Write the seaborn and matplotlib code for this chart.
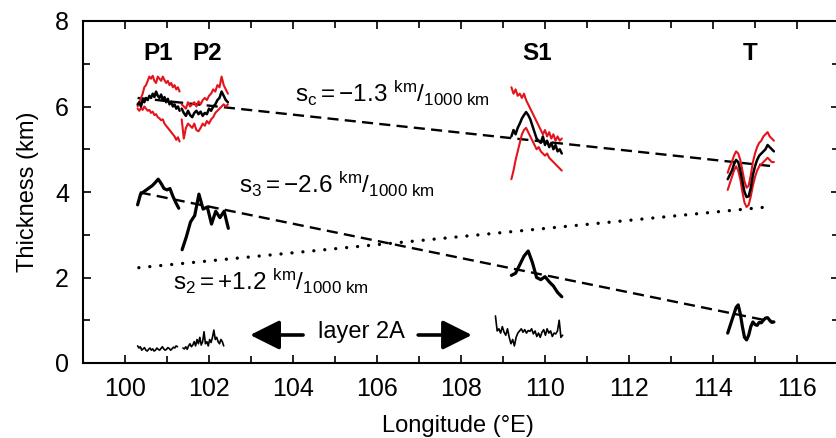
import numpy as np
import pandas as pd
import matplotlib
matplotlib.use("Agg")
import matplotlib.pyplot as plt
import seaborn as sns

# ---------------------------------------------------------------------------
# Profile data: thickness (km) sampled evenly along each segment (°E span)
# ---------------------------------------------------------------------------
# Total crust: mean (black) with upper / lower bounds (red)
crust_p1_span = (100.30, 101.30)
crust_p1_mid = [6.05, 6.10, 6.00, 6.15, 6.10, 6.20, 6.15, 6.25, 6.20, 6.30, 6.22, 6.35, 6.25,
                6.20, 6.28, 6.15, 6.22, 6.10, 6.18, 6.05, 6.12, 6.00, 6.05, 5.95, 6.00, 5.90]
crust_p1_hi = [6.00, 6.10, 6.20, 6.30, 6.45, 6.50, 6.60, 6.70, 6.65, 6.72, 6.60, 6.55, 6.70,
               6.65, 6.60, 6.70, 6.62, 6.55, 6.60, 6.50, 6.55, 6.45, 6.50, 6.40, 6.45, 6.35]
crust_p1_lo = [5.95, 5.90, 5.97, 5.92, 6.00, 5.95, 5.90, 5.92, 5.85, 5.88, 5.80, 5.82, 5.75,
               5.72, 5.68, 5.70, 5.60, 5.55, 5.50, 5.45, 5.40, 5.35, 5.30, 5.22, 5.28, 5.18]

crust_p2_span = (101.35, 102.45)
crust_p2_mid = [5.95, 5.85, 5.78, 5.90, 5.80, 5.75, 5.85, 5.90, 5.82, 5.88, 5.78, 5.85,
                5.82, 5.95, 5.90, 6.00, 6.05, 6.15, 6.20, 6.35, 6.25, 6.15, 6.10]
crust_p2_hi = [6.05, 6.00, 5.95, 6.10, 6.00, 6.05, 6.10, 6.00, 6.12, 6.05, 6.15, 6.20,
               6.15, 6.25, 6.30, 6.40, 6.35, 6.50, 6.45, 6.70, 6.50, 6.40, 6.30]
crust_p2_lo = [5.70, 5.25, 5.50, 5.60, 5.55, 5.50, 5.60, 5.45, 5.42, 5.50, 5.60, 5.55,
               5.66, 5.60, 5.70, 5.75, 5.85, 5.90, 5.95, 6.00, 6.05, 6.00, 6.05]

crust_s1_span = (109.20, 110.40)
crust_s1_mid = [5.30, 5.45, 5.35, 5.50, 5.60, 5.72, 5.80, 5.87, 5.80, 5.70, 5.55, 5.40, 5.25,
                5.20, 5.15, 5.30, 5.10, 5.20, 5.05, 5.15, 5.00, 5.10, 4.95, 5.00, 4.90]
crust_s1_hi = [6.45, 6.30, 6.40, 6.25, 6.30, 6.20, 6.30, 6.15, 6.05, 5.95, 5.85, 5.75, 5.65,
               5.55, 5.45, 5.35, 5.45, 5.30, 5.40, 5.25, 5.35, 5.20, 5.30, 5.20, 5.25]
crust_s1_lo = [4.30, 4.50, 4.75, 4.95, 5.15, 5.35, 5.45, 5.50, 5.40, 5.30, 5.20, 5.10, 5.00,
               5.05, 4.95, 4.90, 4.85, 4.90, 4.80, 4.75, 4.70, 4.65, 4.60, 4.55, 4.50]

crust_t_span = (114.35, 115.45)
crust_t_mid = [4.30, 4.40, 4.50, 4.65, 4.75, 4.70, 4.50, 4.25, 4.00, 3.88, 3.90, 4.10,
               4.40, 4.60, 4.75, 4.85, 4.90, 4.95, 5.00, 5.10, 5.05, 5.00, 4.95]
crust_t_hi = [4.45, 4.60, 4.70, 4.85, 4.95, 4.90, 4.75, 4.50, 4.25, 4.10, 4.15, 4.40,
              4.70, 4.90, 5.05, 5.15, 5.20, 5.30, 5.35, 5.40, 5.30, 5.25, 5.20]
crust_t_lo = [4.05, 4.20, 4.35, 4.50, 4.60, 4.50, 4.30, 4.00, 3.75, 3.65, 3.70, 3.90,
              4.15, 4.35, 4.50, 4.60, 4.65, 4.70, 4.75, 4.80, 4.75, 4.70, 4.70]

# Layer 3
layer3_p1_span = (100.30, 101.28)
layer3_p1 = [3.70, 3.95, 4.00, 4.05, 4.10, 4.15, 4.22, 4.30, 4.20, 4.08, 4.05, 4.08, 3.90, 3.75, 3.62]
layer3_p2_span = (101.36, 102.46)
layer3_p2 = [2.65, 2.95, 3.30, 3.45, 3.95, 3.60, 3.65, 3.25, 3.55, 3.40, 3.55, 3.15]
layer3_s1_span = (109.20, 110.40)
layer3_s1 = [2.05, 2.10, 2.30, 2.50, 2.62, 2.35, 2.00, 1.95, 2.02, 1.90, 1.80, 1.65, 1.55]
layer3_t_span = (114.35, 115.45)
layer3_t = [0.70, 0.85, 1.00, 1.15, 1.30, 1.36, 1.15, 0.85, 0.60, 0.54, 0.65, 0.85,
            0.96, 0.90, 0.88, 0.95, 0.94, 1.00, 1.05, 1.06, 1.00, 0.95, 0.96]

# Layer 2A
layer2a_p1_span = (100.30, 101.25)
layer2a_p1 = [0.40, 0.35, 0.38, 0.30, 0.33, 0.36, 0.30, 0.28, 0.32, 0.35, 0.30, 0.33, 0.28, 0.30, 0.35,
              0.32, 0.30, 0.34, 0.38, 0.33, 0.30, 0.32, 0.36, 0.34, 0.30, 0.33, 0.37, 0.35, 0.40, 0.38]
layer2a_p2_span = (101.38, 102.35)
layer2a_p2 = [0.35, 0.33, 0.38, 0.32, 0.40, 0.45, 0.38, 0.42, 0.50, 0.40, 0.55, 0.45, 0.60, 0.42, 0.50,
              0.73, 0.45, 0.50, 0.40, 0.55, 0.48, 0.60, 0.77, 0.55, 0.60, 0.50, 0.45, 0.55, 0.50, 0.40]
layer2a_s1_span = (108.82, 110.42)
layer2a_s1 = [1.10, 0.75, 0.80, 0.70, 0.85, 0.72, 0.65, 0.80, 0.60, 0.45, 0.55, 0.40, 0.60, 0.70,
              0.75, 0.80, 0.72, 0.78, 0.70, 0.76, 0.74, 0.80, 0.68, 0.75, 0.62, 0.70, 0.60, 0.72,
              0.78, 0.65, 0.80, 0.70, 0.75, 0.62, 0.70, 0.68, 0.75, 1.00, 0.60, 0.65]

# Regional trend lines (end points)
trend_sc_lon, trend_sc_thk = [100.30, 115.45], [6.20, 4.60]
trend_s3_lon, trend_s3_thk = [100.35, 115.45], [3.99, 0.96]
trend_s2_lon, trend_s2_thk = [100.33, 115.40], [2.23, 3.66]

segment_names = ["P1", "P2", "S1", "T"]
segment_label_lon = [100.80, 101.95, 109.80, 114.88]

x_ticks = [100, 102, 104, 106, 108, 110, 112, 114, 116]
y_ticks = [0, 2, 4, 6, 8]


def profile(span, values, name):
    lon = np.linspace(span[0], span[1], len(values))
    return pd.DataFrame({"lon": lon, "thk": values, "seg": name})


crust_mid = pd.concat([profile(crust_p1_span, crust_p1_mid, "P1"),
                       profile(crust_p2_span, crust_p2_mid, "P2"),
                       profile(crust_s1_span, crust_s1_mid, "S1"),
                       profile(crust_t_span, crust_t_mid, "T")], ignore_index=True)
crust_bounds = pd.concat([profile(crust_p1_span, crust_p1_hi, "P1hi"),
                          profile(crust_p1_span, crust_p1_lo, "P1lo"),
                          profile(crust_p2_span, crust_p2_hi, "P2hi"),
                          profile(crust_p2_span, crust_p2_lo, "P2lo"),
                          profile(crust_s1_span, crust_s1_hi, "S1hi"),
                          profile(crust_s1_span, crust_s1_lo, "S1lo"),
                          profile(crust_t_span, crust_t_hi, "Thi"),
                          profile(crust_t_span, crust_t_lo, "Tlo")], ignore_index=True)
layer3 = pd.concat([profile(layer3_p1_span, layer3_p1, "P1"),
                    profile(layer3_p2_span, layer3_p2, "P2"),
                    profile(layer3_s1_span, layer3_s1, "S1"),
                    profile(layer3_t_span, layer3_t, "T")], ignore_index=True)
layer2a = pd.concat([profile(layer2a_p1_span, layer2a_p1, "P1"),
                     profile(layer2a_p2_span, layer2a_p2, "P2"),
                     profile(layer2a_s1_span, layer2a_s1, "S1")], ignore_index=True)

sns.set_theme(style="ticks")
plt.rcParams.update({
    "font.family": ["Liberation Sans", "DejaVu Sans"],
    "mathtext.fontset": "custom",
    "mathtext.rm": "Liberation Sans",
    "mathtext.it": "Liberation Sans",
    "lines.scale_dashes": False,
    "axes.edgecolor": "black",
    "axes.linewidth": 1.5,
    "xtick.color": "black",
    "ytick.color": "black",
    "text.color": "black",
    "axes.labelcolor": "black",
})

fig = plt.figure(figsize=(8.36, 4.38), dpi=100)
ax = fig.add_axes([83 / 836, 1 - 363 / 438, (839 - 83) / 836, (363 - 21) / 438])

red = "#e3141b"

# Trend lines
ax.plot(trend_sc_lon, trend_sc_thk, color="black", lw=1.7, dashes=(8, 4.5), zorder=1)
ax.plot(trend_s3_lon, trend_s3_thk, color="black", lw=1.7, dashes=(8, 4.5), zorder=1)
ax.plot(trend_s2_lon, trend_s2_thk, color="black", lw=2.4, dashes=(0.01, 7.9),
        dash_capstyle="round", zorder=1)

# Profiles
sns.lineplot(data=crust_bounds, x="lon", y="thk", units="seg", estimator=None, sort=False,
             color=red, lw=1.5, ax=ax, zorder=2)
sns.lineplot(data=crust_mid, x="lon", y="thk", units="seg", estimator=None, sort=False,
             color="black", lw=1.8, ax=ax, zorder=3)
sns.lineplot(data=layer3, x="lon", y="thk", units="seg", estimator=None, sort=False,
             color="black", lw=2.3, ax=ax, zorder=3)
sns.lineplot(data=layer2a, x="lon", y="thk", units="seg", estimator=None, sort=False,
             color="black", lw=1.2, ax=ax, zorder=3)

# Segment names
for name, lon in zip(segment_names, segment_label_lon):
    ax.text(lon, 7.08, name, ha="center", va="baseline", fontsize=17.5, fontweight="bold")

# Trend labels
ax.text(104.05, 6.11, r"$\mathregular{s_c = -1.3\ ^{km}/_{1000\ km}}$", fontsize=17.5,
        ha="left", va="baseline")
ax.text(102.71, 3.98, r"$\mathregular{s_3 = -2.6\ ^{km}/_{1000\ km}}$", fontsize=17.5,
        ha="left", va="baseline")
ax.text(101.14, 1.71, r"$\mathregular{s_2 = +1.2\ ^{km}/_{1000\ km}}$", fontsize=17.5,
        ha="left", va="baseline")

# Layer 2A label with arrows
ax.text(105.62, 0.58, "layer 2A", ha="center", va="baseline", fontsize=17)
arrow_kw = dict(arrowstyle="-|>,head_length=0.9,head_width=0.45", lw=2.6, color="black",
                shrinkA=0, shrinkB=0, mutation_scale=20)
ax.annotate("", xy=(102.98, 0.655), xytext=(104.24, 0.655), arrowprops=arrow_kw)
ax.annotate("", xy=(108.26, 0.655), xytext=(106.98, 0.655), arrowprops=arrow_kw)

# Axes
ax.set_xlim(99, 117)
ax.set_ylim(0, 8)
ax.set_xticks(x_ticks)
ax.set_yticks(y_ticks)
ax.set_xticks(np.arange(99, 118, 1), minor=True)
ax.set_yticks(np.arange(0, 9, 1), minor=True)
ax.tick_params(which="both", direction="in", top=True, right=True, width=1.2,
               labelsize=18, pad=10)
ax.tick_params(which="major", length=6)
ax.tick_params(which="minor", length=5)
for side in ["top", "right", "left", "bottom"]:
    ax.spines[side].set_visible(True)
    ax.spines[side].set_linewidth(1.5)

ax.set_xlabel("Longitude (°E)", fontsize=17)
ax.set_ylabel("Thickness (km)", fontsize=17)
ax.xaxis.set_label_coords((457.5 - 83) / 756, -0.153)
ax.yaxis.set_label_coords(-0.058, 0.5)
ax.set_facecolor("white")
fig.patch.set_facecolor("white")

fig.savefig("out.png", dpi=100)
